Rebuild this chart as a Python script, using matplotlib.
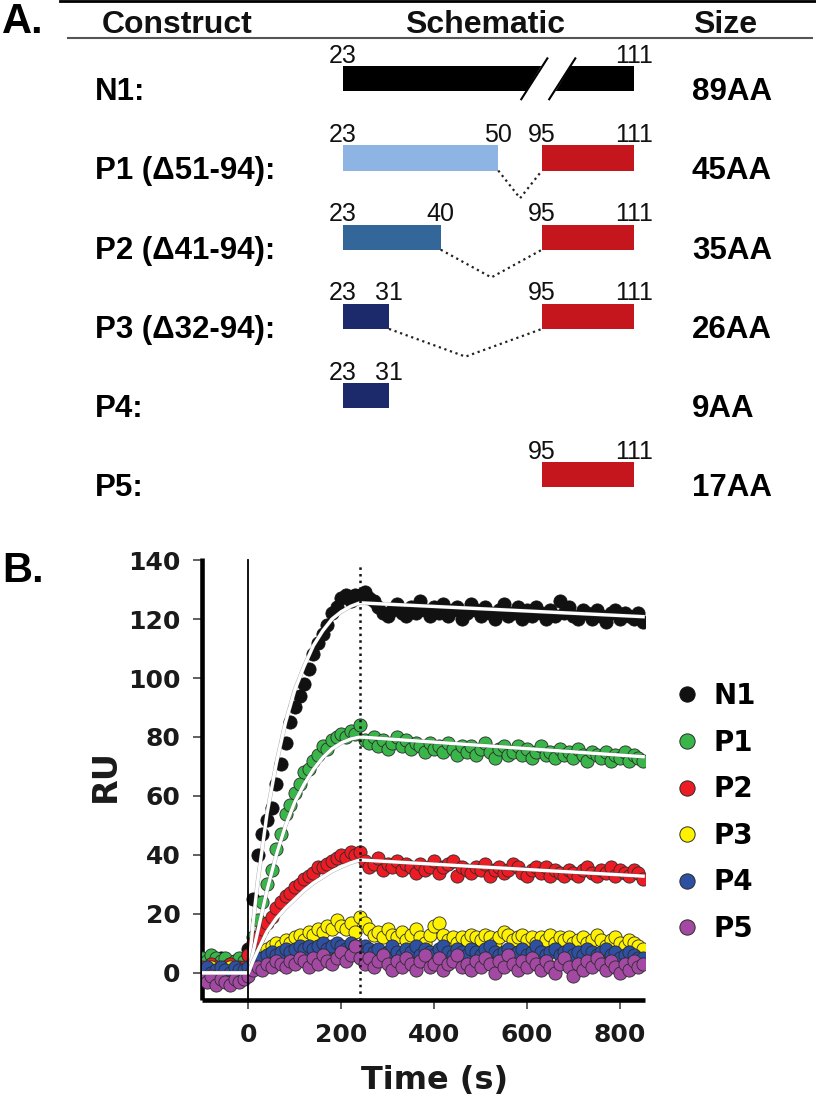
import matplotlib
matplotlib.use('Agg')
import matplotlib.pyplot as plt
import matplotlib.transforms as mtransforms
import matplotlib.patheffects as pe
from matplotlib.lines import Line2D
from matplotlib.patches import Polygon
import numpy as np

plt.rcParams['font.family'] = ['DejaVu Sans']

W, H = 816, 1101
ARIAL = ['Liberation Sans', 'DejaVu Sans']


def fx(px):
    return px / W


def fy(py):
    return 1 - py / H


# ---------------- panel A data ----------------
constructs = ['N1:', 'P1 (\u039451-94):', 'P2 (\u039441-94):', 'P3 (\u039432-94):', 'P4:', 'P5:']
sizes = ['89AA', '45AA', '35AA', '26AA', '9AA', '17AA']
segments = [[(23, 111)],
            [(23, 50), (95, 111)],
            [(23, 40), (95, 111)],
            [(23, 31), (95, 111)],
            [(23, 31)],
            [(95, 111)]]
seg_colors = [['#000000'],
              ['#8db4e2', '#c4161c'],
              ['#336699', '#c4161c'],
              ['#1c2a6b', '#c4161c'],
              ['#1c2a6b'],
              ['#c4161c']]

# ---------------- panel B data ----------------
time_s = np.arange(-100, 851, 10)
series_names = ['N1', 'P1', 'P2', 'P3', 'P4', 'P5']
ru_n1 = [3, 4, 2, 3, 5, 3, 2, 4, 3, 2,
         8, 25, 40, 47, 52, 56, 64, 71, 78, 85,
         90, 94, 98, 103, 108, 112, 115, 118, 122, 124,
         127, 128, 126, 128, 128, 129, 127, 126, 124, 122,
         121, 123, 125, 122, 121, 124, 122, 126, 123, 121,
         124, 122, 125, 121, 123, 124, 120, 122, 125, 123,
         121, 124, 122, 120, 123, 125, 121, 122, 124, 120,
         123, 121, 124, 122, 120, 123, 121, 126, 122, 124,
         121, 120, 123, 122, 120, 123, 121, 119, 122, 123,
         120, 122, 121, 120, 122, 119]
ru_p1 = [5, 4, 6, 5, 4, 5, 3, 4, 5, 4,
         6, 12, 18, 24, 30, 35, 42, 47, 54, 57,
         61, 64, 68, 69, 72, 74, 77, 76, 79, 80,
         81, 80, 82, 81, 84, 79, 78, 80, 77, 79,
         76, 78, 80, 77, 79, 76, 78, 77, 75, 78,
         76, 77, 75, 78, 76, 74, 77, 75, 77, 74,
         76, 78, 75, 73, 76, 77, 74, 75, 77, 74,
         76, 73, 75, 77, 74, 75, 73, 76, 74, 75,
         73, 76, 74, 72, 75, 74, 73, 75, 72, 74,
         73, 75, 72, 74, 73, 72]
ru_p2 = [2, 1, 3, 2, 1, 2, 3, 1, 2, 2,
         6, 10, 12, 15, 17, 19, 22, 24, 26, 27,
         29, 30, 32, 33, 34, 36, 36, 37, 38, 39,
         40, 39, 41, 40, 41, 38, 36, 37, 39, 35,
         37, 36, 38, 35, 37, 36, 34, 37, 35, 36,
         38, 34, 36, 37, 38, 33, 36, 35, 34, 36,
         35, 37, 33, 35, 36, 34, 35, 37, 36, 34,
         33, 35, 36, 34, 36, 33, 35, 34, 33, 35,
         34, 33, 35, 36, 34, 33, 35, 34, 36, 33,
         35, 34, 33, 35, 34, 32]
ru_p3 = [1, 0, 2, 1, 0, 1, 2, 0, 1, 1,
         0, 3, 5, 7, 8, 9, 10, 9, 11, 10,
         12, 13, 11, 14, 13, 15, 14, 16, 15, 18,
         16, 15, 17, 14, 19, 17, 15, 13, 14, 12,
         15, 13, 12, 14, 11, 13, 15, 12, 10, 13,
         16, 17, 13, 11, 12, 10, 12, 11, 13, 12,
         11, 13, 12, 10, 12, 14, 13, 11, 12, 13,
         11, 12, 10, 12, 11, 13, 10, 12, 11, 12,
         10, 11, 12, 10, 11, 13, 11, 9, 11, 12,
         10, 9, 11, 10, 9, 8]
ru_p4 = [1, 2, 0, 1, 2, 1, 0, 2, 1, 1,
         2, 4, 5, 5, 6, 7, 6, 7, 8, 7,
         8, 9, 8, 9, 8, 9, 10, 8, 9, 10,
         9, 8, 10, 9, 8, 9, 8, 7, 8, 6,
         7, 9, 7, 6, 8, 7, 9, 6, 8, 7,
         6, 8, 9, 7, 6, 8, 7, 6, 8, 7,
         6, 8, 9, 7, 6, 7, 8, 6, 7, 8,
         6, 7, 9, 7, 6, 7, 8, 6, 7, 8,
         6, 7, 6, 8, 7, 6, 7, 8, 6, 7,
         5, 6, 7, 6, 5, 5]
ru_p5 = [-2, -3, -1, -4, -2, -3, -4, -2, -3, -2,
         -1, 1, 2, 1, 3, 2, 4, 3, 2, 4,
         3, 5, 4, 2, 5, 3, 6, 4, 3, 5,
         7, 4, 6, 9, 5, 3, 5, 2, 4, 6,
         3, 1, 4, 2, 5, 3, 1, 4, 6, 2,
         3, 5, 1, 3, 4, 6, 2, 3, 1, 4,
         2, 5, 3, 0, 4, 2, 6, 3, 1, 4,
         2, 5, 3, 1, 4, 2, 0, 3, 5, 2,
         -1, 3, 1, 4, 2, 5, 3, 1, 4, 2,
         0, 3, 1, 4, 2, 3]

# fitted curves
fit_t = [-100, 0, 10, 20, 40, 60, 80, 100, 120, 140, 160, 180, 200, 220, 240, 850]
fit_n1 = [0, 0, 17, 31, 54, 71, 85, 96, 104, 111, 116, 120, 122.5, 124.3, 125.5, 120.8]
fit_p1 = [0, 0, 7, 14, 28, 40, 50, 58, 64, 69, 73, 76, 78, 79.3, 80, 73.3]
fit_p2 = [0, 0, 4, 7.5, 14, 18.5, 22, 25, 28, 30.5, 32.5, 34.5, 36, 37.3, 38.3, 32.8]

series_colors = ['#111111', '#39b54a', '#ed1c24', '#fff200', '#2e50a2', '#a349a4']

fig = plt.figure(figsize=(W / 100, H / 100), dpi=100)

# ================= panel A: schematic =================
GAP_START = 95
GAP_SHIFT = 37.4   # residues 51-94 are cut out of the drawing


def res_pos(r):
    return r if r < GAP_START else r - GAP_SHIFT


ax_a = fig.add_axes([0, fy(540), 1, 540 / H])
ax_a.set_xlim(23 - 343 / 5.75, 23 + (816 - 343) / 5.75)
ax_a.set_ylim((540 - 78.8) / 79.2, -78.8 / 79.2)
ax_a.axis('off')

BAR_H = 0.316
lab_tr = mtransforms.blended_transform_factory(fig.transFigure, ax_a.transData)

for r, (name, size, segs, cols) in enumerate(zip(constructs, sizes, segments, seg_colors)):
    for (a, b), c in zip(segs, cols):
        left, right = res_pos(a), res_pos(b)
        ax_a.barh(r, right - left, left=left, height=BAR_H, color=c, zorder=2)
        for num, xp in ((a, left), (b, right)):
            ax_a.text(xp, r - BAR_H / 2 - 0.045, str(num), ha='center', va='baseline',
                      fontsize=18, family=ARIAL, color='#111111')
        if a < GAP_START <= b:
            # broken-axis mark through the full length bar
            xc, hg, sl = 58.7, 2.43, 8.8
            top, bot = r - BAR_H / 2, r + BAR_H / 2
            poly = [(xc - hg - sl * (bot - r), bot + 0.01), (xc + hg - sl * (bot - r), bot + 0.01),
                    (xc + hg - sl * (top - r), top - 0.01), (xc - hg - sl * (top - r), top - 0.01)]
            ax_a.add_patch(Polygon(poly, closed=True, color='white', zorder=3))
            for off in (-hg, hg):
                y0, y1 = bot + 0.1, top - 0.1
                ax_a.plot([xc + off - sl * (y0 - r), xc + off - sl * (y1 - r)], [y0, y1],
                          color='black', lw=1.5, zorder=4)
    if len(segs) == 2:
        x0, x1 = res_pos(segs[0][1]), res_pos(segs[1][0])
        yb = r + BAR_H / 2
        ax_a.plot([x0, (x0 + x1) / 2, x1], [yb, yb + 0.35, yb], ls=':', color='#222222', lw=1.6)
    ax_a.text(fx(95), r + 0.27, name, transform=lab_tr, fontsize=22.5, fontweight='bold',
              family=ARIAL, va='baseline', ha='left')
    ax_a.text(fx(692), r + 0.27, size, transform=lab_tr, fontsize=22.5, fontweight='bold',
              family=ARIAL, va='baseline', ha='left')

fig.text(fx(2), fy(33), 'A.', fontsize=30, fontweight='bold', family=ARIAL, va='baseline')
for txt, xp in (('Construct', 102), ('Schematic', 405), ('Size', 693)):
    fig.text(fx(xp), fy(33), txt, fontsize=23, fontweight='bold', family=ARIAL,
             va='baseline', color='#111111')
fig.add_artist(Line2D([fx(68), fx(812)], [fy(37.5), fy(37.5)], color='#555555', lw=1.5))
fig.add_artist(Line2D([fx(60), fx(816)], [fy(1), fy(1)], color='black', lw=2))

# ================= panel B: SPR sensorgrams =================
ax = fig.add_axes([fx(202), fy(1000), (645 - 202) / W, (1000 - 558) / H])
ax.set_xlim(-100, 854)
ax.set_ylim(-9.2, 140.7)

all_ru = [ru_n1, ru_p1, ru_p2, ru_p3, ru_p4, ru_p5]
for name, vals, c in zip(series_names, all_ru, series_colors):
    ax.plot(time_s, vals, 'o', ms=9.5, mfc=c, mec='#2b2b2b' if name != 'N1' else c,
            mew=0.6, zorder=3)

outline = [pe.Stroke(linewidth=3.0, foreground='#555555', alpha=0.5), pe.Normal()]
for fit in (fit_n1, fit_p1, fit_p2):
    ax.plot(fit_t, fit, color='white', lw=2.4, zorder=4, path_effects=outline)

ax.axvline(0, ymax=0.995, color='black', lw=1.3, zorder=5)
ax.axvline(240, ymax=0.984, color='#111111', lw=1.8, ls=':', zorder=5)

for s in ('top', 'right'):
    ax.spines[s].set_visible(False)
for s in ('left', 'bottom'):
    ax.spines[s].set_linewidth(3.3)
    ax.spines[s].set_capstyle('butt')

ax.set_xticks([0, 200, 400, 600, 800])
ax.set_yticks(range(0, 141, 20))
ax.tick_params(axis='both', direction='out', length=6.3, width=1.2, color='#444444',
               labelsize=18)
ax.tick_params(axis='y', pad=9)
ax.tick_params(axis='x', pad=10)
for lab in ax.get_xticklabels() + ax.get_yticklabels():
    lab.set_fontweight('bold')
    lab.set_color('#1a1a1a')

ax.set_xlabel('Time (s)', fontsize=23, fontweight='bold', color='#1a1a1a')
ax.set_ylabel('RU', fontsize=24, fontweight='bold', color='#1a1a1a')
ax.xaxis.set_label_coords(0.525, -0.147)
ax.yaxis.set_label_coords(-0.181, 0.507)

handles = [Line2D([], [], marker='o', ls='none', ms=11, mfc=c,
                  mec='#2b2b2b' if n != 'N1' else c, mew=0.7)
           for n, c in zip(series_names, series_colors)]
ax.legend(handles, series_names, loc='upper left', bbox_to_anchor=(fx(673), fy(682)),
          bbox_transform=fig.transFigure, frameon=False,
          prop=dict(family='DejaVu Sans', weight='bold', size=20),
          handlelength=1.0, handletextpad=0.45, labelspacing=0.67,
          borderpad=0, borderaxespad=0)

fig.text(fx(2), fy(582), 'B.', fontsize=30, fontweight='bold', family=ARIAL, va='baseline')

fig.savefig('out.png', dpi=100)
